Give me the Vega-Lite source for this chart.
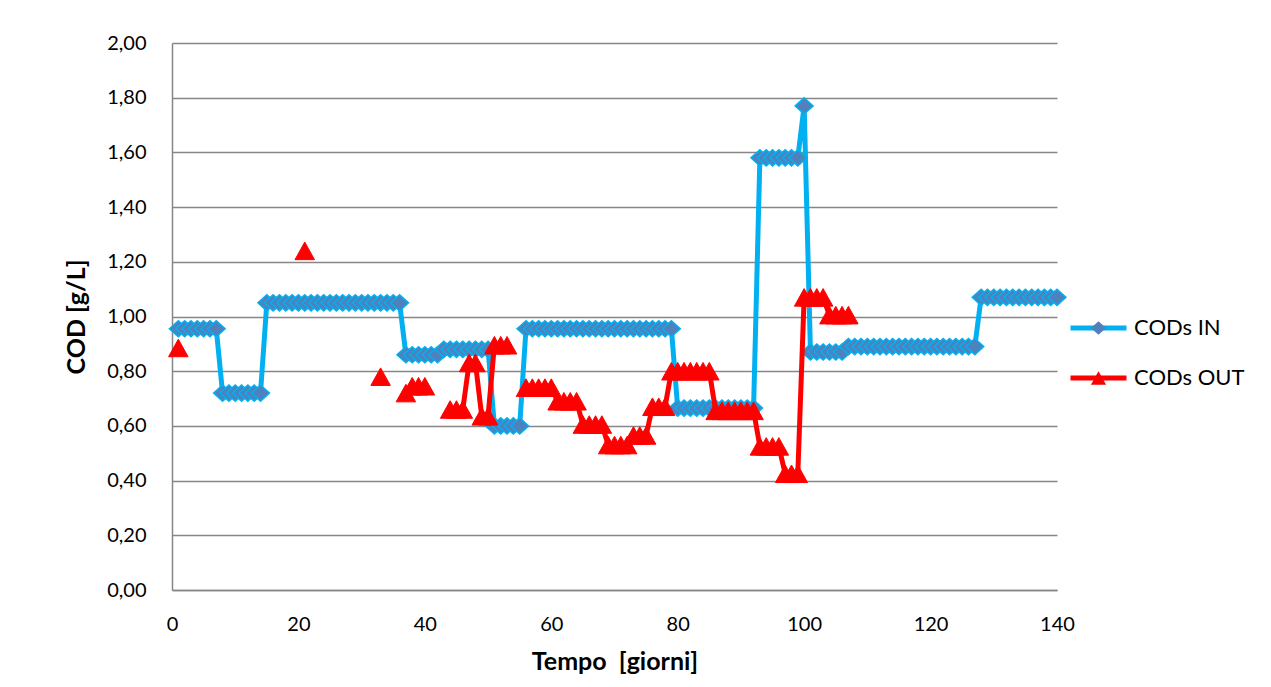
{
  "$schema": "https://vega.github.io/schema/vega-lite/v6.json",
  "width": 885,
  "height": 547,
  "autosize": {"type": "none"},
  "padding": {"left": 172, "top": 43, "right": 214, "bottom": 97},
  "background": "white",
  "config": {"view": {"stroke": null}, "font": "Lato"},
  "data": {"values": [
    {"giorno":1,"CODs IN":0.955,"CODs OUT":0.885},
    {"giorno":2,"CODs IN":0.955,"CODs OUT":null},
    {"giorno":3,"CODs IN":0.955,"CODs OUT":null},
    {"giorno":4,"CODs IN":0.955,"CODs OUT":null},
    {"giorno":5,"CODs IN":0.955,"CODs OUT":null},
    {"giorno":6,"CODs IN":0.955,"CODs OUT":null},
    {"giorno":7,"CODs IN":0.955,"CODs OUT":null},
    {"giorno":8,"CODs IN":0.72,"CODs OUT":null},
    {"giorno":9,"CODs IN":0.72,"CODs OUT":null},
    {"giorno":10,"CODs IN":0.72,"CODs OUT":null},
    {"giorno":11,"CODs IN":0.72,"CODs OUT":null},
    {"giorno":12,"CODs IN":0.72,"CODs OUT":null},
    {"giorno":13,"CODs IN":0.72,"CODs OUT":null},
    {"giorno":14,"CODs IN":0.72,"CODs OUT":null},
    {"giorno":15,"CODs IN":1.05,"CODs OUT":null},
    {"giorno":16,"CODs IN":1.05,"CODs OUT":null},
    {"giorno":17,"CODs IN":1.05,"CODs OUT":null},
    {"giorno":18,"CODs IN":1.05,"CODs OUT":null},
    {"giorno":19,"CODs IN":1.05,"CODs OUT":null},
    {"giorno":20,"CODs IN":1.05,"CODs OUT":null},
    {"giorno":21,"CODs IN":1.05,"CODs OUT":1.24},
    {"giorno":22,"CODs IN":1.05,"CODs OUT":null},
    {"giorno":23,"CODs IN":1.05,"CODs OUT":null},
    {"giorno":24,"CODs IN":1.05,"CODs OUT":null},
    {"giorno":25,"CODs IN":1.05,"CODs OUT":null},
    {"giorno":26,"CODs IN":1.05,"CODs OUT":null},
    {"giorno":27,"CODs IN":1.05,"CODs OUT":null},
    {"giorno":28,"CODs IN":1.05,"CODs OUT":null},
    {"giorno":29,"CODs IN":1.05,"CODs OUT":null},
    {"giorno":30,"CODs IN":1.05,"CODs OUT":null},
    {"giorno":31,"CODs IN":1.05,"CODs OUT":null},
    {"giorno":32,"CODs IN":1.05,"CODs OUT":null},
    {"giorno":33,"CODs IN":1.05,"CODs OUT":0.78},
    {"giorno":34,"CODs IN":1.05,"CODs OUT":null},
    {"giorno":35,"CODs IN":1.05,"CODs OUT":null},
    {"giorno":36,"CODs IN":1.05,"CODs OUT":null},
    {"giorno":37,"CODs IN":0.86,"CODs OUT":0.72},
    {"giorno":38,"CODs IN":0.86,"CODs OUT":0.745},
    {"giorno":39,"CODs IN":0.86,"CODs OUT":0.745},
    {"giorno":40,"CODs IN":0.86,"CODs OUT":0.745},
    {"giorno":41,"CODs IN":0.86,"CODs OUT":null},
    {"giorno":42,"CODs IN":0.86,"CODs OUT":null},
    {"giorno":43,"CODs IN":0.88,"CODs OUT":null},
    {"giorno":44,"CODs IN":0.88,"CODs OUT":0.66},
    {"giorno":45,"CODs IN":0.88,"CODs OUT":0.66},
    {"giorno":46,"CODs IN":0.88,"CODs OUT":0.66},
    {"giorno":47,"CODs IN":0.88,"CODs OUT":0.83},
    {"giorno":48,"CODs IN":0.88,"CODs OUT":0.83},
    {"giorno":49,"CODs IN":0.88,"CODs OUT":0.635},
    {"giorno":50,"CODs IN":0.88,"CODs OUT":0.635},
    {"giorno":51,"CODs IN":0.60,"CODs OUT":0.895},
    {"giorno":52,"CODs IN":0.60,"CODs OUT":0.895},
    {"giorno":53,"CODs IN":0.60,"CODs OUT":0.895},
    {"giorno":54,"CODs IN":0.60,"CODs OUT":null},
    {"giorno":55,"CODs IN":0.60,"CODs OUT":null},
    {"giorno":56,"CODs IN":0.955,"CODs OUT":0.74},
    {"giorno":57,"CODs IN":0.955,"CODs OUT":0.74},
    {"giorno":58,"CODs IN":0.955,"CODs OUT":0.74},
    {"giorno":59,"CODs IN":0.955,"CODs OUT":0.74},
    {"giorno":60,"CODs IN":0.955,"CODs OUT":0.74},
    {"giorno":61,"CODs IN":0.955,"CODs OUT":0.69},
    {"giorno":62,"CODs IN":0.955,"CODs OUT":0.69},
    {"giorno":63,"CODs IN":0.955,"CODs OUT":0.69},
    {"giorno":64,"CODs IN":0.955,"CODs OUT":0.69},
    {"giorno":65,"CODs IN":0.955,"CODs OUT":0.605},
    {"giorno":66,"CODs IN":0.955,"CODs OUT":0.605},
    {"giorno":67,"CODs IN":0.955,"CODs OUT":0.605},
    {"giorno":68,"CODs IN":0.955,"CODs OUT":0.605},
    {"giorno":69,"CODs IN":0.955,"CODs OUT":0.53},
    {"giorno":70,"CODs IN":0.955,"CODs OUT":0.53},
    {"giorno":71,"CODs IN":0.955,"CODs OUT":0.53},
    {"giorno":72,"CODs IN":0.955,"CODs OUT":0.53},
    {"giorno":73,"CODs IN":0.955,"CODs OUT":0.565},
    {"giorno":74,"CODs IN":0.955,"CODs OUT":0.565},
    {"giorno":75,"CODs IN":0.955,"CODs OUT":0.565},
    {"giorno":76,"CODs IN":0.955,"CODs OUT":0.67},
    {"giorno":77,"CODs IN":0.955,"CODs OUT":0.67},
    {"giorno":78,"CODs IN":0.955,"CODs OUT":0.67},
    {"giorno":79,"CODs IN":0.955,"CODs OUT":0.80},
    {"giorno":80,"CODs IN":0.665,"CODs OUT":0.80},
    {"giorno":81,"CODs IN":0.665,"CODs OUT":0.80},
    {"giorno":82,"CODs IN":0.665,"CODs OUT":0.80},
    {"giorno":83,"CODs IN":0.665,"CODs OUT":0.80},
    {"giorno":84,"CODs IN":0.665,"CODs OUT":0.80},
    {"giorno":85,"CODs IN":0.665,"CODs OUT":0.80},
    {"giorno":86,"CODs IN":0.665,"CODs OUT":0.655},
    {"giorno":87,"CODs IN":0.665,"CODs OUT":0.655},
    {"giorno":88,"CODs IN":0.665,"CODs OUT":0.655},
    {"giorno":89,"CODs IN":0.665,"CODs OUT":0.655},
    {"giorno":90,"CODs IN":0.665,"CODs OUT":0.655},
    {"giorno":91,"CODs IN":0.665,"CODs OUT":0.655},
    {"giorno":92,"CODs IN":0.665,"CODs OUT":0.655},
    {"giorno":93,"CODs IN":1.58,"CODs OUT":0.525},
    {"giorno":94,"CODs IN":1.58,"CODs OUT":0.525},
    {"giorno":95,"CODs IN":1.58,"CODs OUT":0.525},
    {"giorno":96,"CODs IN":1.58,"CODs OUT":0.525},
    {"giorno":97,"CODs IN":1.58,"CODs OUT":0.425},
    {"giorno":98,"CODs IN":1.58,"CODs OUT":0.425},
    {"giorno":99,"CODs IN":1.58,"CODs OUT":0.425},
    {"giorno":100,"CODs IN":1.77,"CODs OUT":1.07},
    {"giorno":101,"CODs IN":0.87,"CODs OUT":1.07},
    {"giorno":102,"CODs IN":0.87,"CODs OUT":1.07},
    {"giorno":103,"CODs IN":0.87,"CODs OUT":1.07},
    {"giorno":104,"CODs IN":0.87,"CODs OUT":1.005},
    {"giorno":105,"CODs IN":0.87,"CODs OUT":1.005},
    {"giorno":106,"CODs IN":0.87,"CODs OUT":1.005},
    {"giorno":107,"CODs IN":0.89,"CODs OUT":1.005},
    {"giorno":108,"CODs IN":0.89,"CODs OUT":null},
    {"giorno":109,"CODs IN":0.89,"CODs OUT":null},
    {"giorno":110,"CODs IN":0.89,"CODs OUT":null},
    {"giorno":111,"CODs IN":0.89,"CODs OUT":null},
    {"giorno":112,"CODs IN":0.89,"CODs OUT":null},
    {"giorno":113,"CODs IN":0.89,"CODs OUT":null},
    {"giorno":114,"CODs IN":0.89,"CODs OUT":null},
    {"giorno":115,"CODs IN":0.89,"CODs OUT":null},
    {"giorno":116,"CODs IN":0.89,"CODs OUT":null},
    {"giorno":117,"CODs IN":0.89,"CODs OUT":null},
    {"giorno":118,"CODs IN":0.89,"CODs OUT":null},
    {"giorno":119,"CODs IN":0.89,"CODs OUT":null},
    {"giorno":120,"CODs IN":0.89,"CODs OUT":null},
    {"giorno":121,"CODs IN":0.89,"CODs OUT":null},
    {"giorno":122,"CODs IN":0.89,"CODs OUT":null},
    {"giorno":123,"CODs IN":0.89,"CODs OUT":null},
    {"giorno":124,"CODs IN":0.89,"CODs OUT":null},
    {"giorno":125,"CODs IN":0.89,"CODs OUT":null},
    {"giorno":126,"CODs IN":0.89,"CODs OUT":null},
    {"giorno":127,"CODs IN":0.89,"CODs OUT":null},
    {"giorno":128,"CODs IN":1.07,"CODs OUT":null},
    {"giorno":129,"CODs IN":1.07,"CODs OUT":null},
    {"giorno":130,"CODs IN":1.07,"CODs OUT":null},
    {"giorno":131,"CODs IN":1.07,"CODs OUT":null},
    {"giorno":132,"CODs IN":1.07,"CODs OUT":null},
    {"giorno":133,"CODs IN":1.07,"CODs OUT":null},
    {"giorno":134,"CODs IN":1.07,"CODs OUT":null},
    {"giorno":135,"CODs IN":1.07,"CODs OUT":null},
    {"giorno":136,"CODs IN":1.07,"CODs OUT":null},
    {"giorno":137,"CODs IN":1.07,"CODs OUT":null},
    {"giorno":138,"CODs IN":1.07,"CODs OUT":null},
    {"giorno":139,"CODs IN":1.07,"CODs OUT":null},
    {"giorno":140,"CODs IN":1.07,"CODs OUT":null}
  ]},
  "transform": [{"fold": ["CODs IN", "CODs OUT"], "as": ["serie", "COD"]}],
  "encoding": {
    "x": {"field": "giorno", "type": "quantitative",
      "scale": {"domain": [0, 140], "nice": false, "zero": false},
      "axis": {"values": [0, 20, 40, 60, 80, 100, 120, 140], "format": "d", "grid": false, "ticks": false, "tickSize": 0, "labelFlush": false,
        "domainColor": "#868686", "domainWidth": 1.5, "labelPadding": 24, "labelFont": "Lato", "labelFontSize": 20, "labelColor": "#000000",
        "title": "Tempo \u00a0[giorni]", "titleFont": "Lato", "titleFontSize": 25, "titleFontWeight": "bold", "titleColor": "#000000", "titlePadding": 15}},
    "y": {"field": "COD", "type": "quantitative",
      "scale": {"domain": [0, 2], "nice": false},
      "axis": {"values": [0, 0.2, 0.4, 0.6, 0.8, 1.0, 1.2, 1.4, 1.6, 1.8, 2.0],
        "labelExpr": "replace(format(datum.value, '.2f'), '.', ',')",
        "grid": true, "gridColor": "#868686", "gridWidth": 1.3, "ticks": false, "tickSize": 0,
        "domainColor": "#868686", "domainWidth": 1.5, "labelPadding": 26, "labelFont": "Lato", "labelFontSize": 20, "labelColor": "#000000",
        "title": "COD [g/L]", "titleFont": "Lato", "titleFontSize": 25, "titleFontWeight": "bold", "titleColor": "#000000", "titlePadding": 17}},
    "stroke": {"field": "serie", "type": "nominal",
      "scale": {"domain": ["CODs IN", "CODs OUT"], "range": ["#00B0F0", "#FF0000"]},
      "legend": {"title": null, "orient": "none", "legendX": 896, "legendY": 270, "padding": 0,
        "symbolType": "stroke", "symbolSize": 3136, "symbolStrokeWidth": 5,
        "labelFont": "Lato", "labelFontSize": 22, "labelColor": "#000000", "labelOffset": 5,
        "clipHeight": 30, "rowPadding": 20, "zindex": 0}}
  },
  "layer": [
    {
      "transform": [{"filter": "datum.serie === 'CODs IN'"}],
      "mark": {"type": "line", "strokeWidth": 5, "strokeJoin": "round", "strokeCap": "round", "invalid": "break-paths-filter-domains"}
    },
    {
      "transform": [{"filter": "datum.serie === 'CODs IN' && datum.COD !== null"}],
      "mark": {"type": "point", "filled": true, "opacity": 1, "size": 320, "strokeWidth": 1.5},
      "encoding": {
        "fill": {"field": "serie", "type": "nominal", "scale": {"range": ["#4F81BD", "#FF0000"]},
          "legend": {"title": null, "orient": "none", "legendX": 918, "legendY": 270, "padding": 0, "symbolSize": 230, "symbolStrokeWidth": 1.5,
            "labelExpr": "''", "labelFontSize": 10, "clipHeight": 30, "rowPadding": 20, "zindex": 1,
            "encode": {"symbols": {"update": {"stroke": {"signal": "datum.value === 'CODs IN' ? '#00B0F0' : '#FF0000'"}, "strokeWidth": {"value": 1.5}}}}}},
        "shape": {"field": "serie", "type": "nominal", "scale": {"range": ["M-1,0L0,-0.9L1,0L0,0.9Z", "M0,-0.9L1,0.9L-1,0.9Z"]},
          "legend": {"title": null, "orient": "none", "legendX": 918, "legendY": 270, "padding": 0, "symbolSize": 230, "symbolStrokeWidth": 1.5,
            "labelExpr": "''", "labelFontSize": 10, "clipHeight": 30, "rowPadding": 20, "zindex": 1,
            "encode": {"symbols": {"update": {"stroke": {"signal": "datum.value === 'CODs IN' ? '#00B0F0' : '#FF0000'"}, "strokeWidth": {"value": 1.5}}}}}}
      }
    },
    {
      "transform": [{"filter": "datum.serie === 'CODs OUT'"}],
      "mark": {"type": "line", "strokeWidth": 5, "strokeJoin": "round", "strokeCap": "round", "invalid": "break-paths-filter-domains"}
    },
    {
      "transform": [{"filter": "datum.serie === 'CODs OUT' && datum.COD !== null"}],
      "mark": {"type": "point", "filled": true, "opacity": 1, "size": 380, "strokeWidth": 1},
      "encoding": {
        "fill": {"field": "serie", "type": "nominal", "scale": {"range": ["#4F81BD", "#FF0000"]},
          "legend": {"title": null, "orient": "none", "legendX": 918, "legendY": 270, "padding": 0, "symbolSize": 230, "symbolStrokeWidth": 1.5,
            "labelExpr": "''", "labelFontSize": 10, "clipHeight": 30, "rowPadding": 20, "zindex": 1,
            "encode": {"symbols": {"update": {"stroke": {"signal": "datum.value === 'CODs IN' ? '#00B0F0' : '#FF0000'"}, "strokeWidth": {"value": 1.5}}}}}},
        "shape": {"field": "serie", "type": "nominal", "scale": {"range": ["M-1,0L0,-0.9L1,0L0,0.9Z", "M0,-0.9L1,0.9L-1,0.9Z"]},
          "legend": {"title": null, "orient": "none", "legendX": 918, "legendY": 270, "padding": 0, "symbolSize": 230, "symbolStrokeWidth": 1.5,
            "labelExpr": "''", "labelFontSize": 10, "clipHeight": 30, "rowPadding": 20, "zindex": 1,
            "encode": {"symbols": {"update": {"stroke": {"signal": "datum.value === 'CODs IN' ? '#00B0F0' : '#FF0000'"}, "strokeWidth": {"value": 1.5}}}}}}
      }
    }
  ]
}
